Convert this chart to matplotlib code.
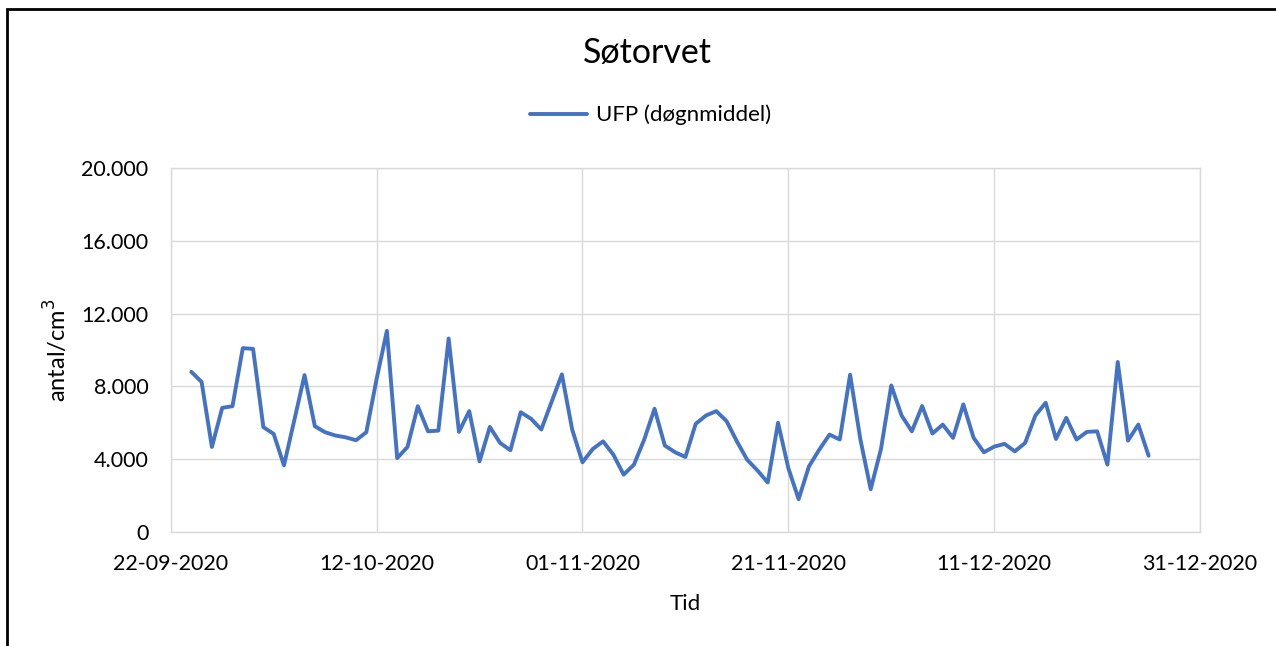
import pandas as pd
import matplotlib
matplotlib.use("Agg")
import matplotlib.pyplot as plt
import matplotlib.dates as mdates
from matplotlib.ticker import FuncFormatter, MultipleLocator
from matplotlib.patches import Rectangle

plt.rcParams['font.family'] = ['Lato', 'DejaVu Sans']

# daily mean UFP, first value on 24-09-2020
start_date = "2020-09-24"
ufp_values = [
    8800, 8240, 4670, 6820, 6910, 10100, 10060, 5760, 5390, 3660,
    6130, 8620, 5810, 5480, 5300, 5200, 5040, 5480, 8400, 11050,
    4060, 4670, 6910, 5530, 5570, 10630, 5500, 6640, 3880, 5770,
    4890, 4490, 6580, 6220, 5630, 7150, 8660, 5630, 3830, 4560,
    4980, 4250, 3150, 3700, 5080, 6770, 4750, 4380, 4120, 5940,
    6400, 6640, 6090, 4980, 3970, 3380, 2720, 6000, 3510, 1800,
    3600, 4520, 5350, 5080, 8640, 5080, 2350, 4560, 8050, 6400,
    5530, 6920, 5410, 5900, 5170, 7010, 5170, 4380, 4690, 4840,
    4430, 4890, 6400, 7100, 5110, 6270, 5080, 5500, 5530, 3700,
    9340, 5020, 5900, 4190,
]
dates = pd.date_range(start_date, periods=len(ufp_values), freq="D")

x_start = pd.Timestamp("2020-09-22")
x_end = pd.Timestamp("2020-12-31")
tick_dates = pd.date_range(x_start, x_end, freq="20D")

fig = plt.figure(figsize=(12.76, 6.46), dpi=100)
ax = fig.add_axes([0.1338, 0.1765, 0.8067, 0.5635])

ax.plot(dates, ufp_values, color="#4472C4", linewidth=2.8,
        solid_joinstyle="round", solid_capstyle="round",
        label="UFP (døgnmiddel)")

ax.set_xlim(x_start, x_end)
ax.set_ylim(0, 20000)
ax.set_xticks(tick_dates)
ax.xaxis.set_major_formatter(mdates.DateFormatter("%d-%m-%Y"))
ax.yaxis.set_major_locator(MultipleLocator(4000))
ax.yaxis.set_major_formatter(FuncFormatter(lambda v, p: f"{v:,.0f}".replace(",", ".")))

ax.grid(True, color="#D9D9D9", linewidth=1.0)
ax.set_axisbelow(True)
for s in ax.spines.values():
    s.set_color("#D9D9D9")
    s.set_linewidth(1.0)
ax.tick_params(length=0, labelsize=15.5, colors="#000000")
ax.tick_params(axis="y", pad=16)
ax.tick_params(axis="x", pad=16)

ax.set_xlabel("Tid", fontsize=16, labelpad=14)
ax.set_ylabel("antal/cm$^3$", fontsize=17, labelpad=8)

fig.text(0.507, 0.918, "Søtorvet", ha="center", va="center", fontsize=24.5)
ax.legend(loc="center", bbox_to_anchor=(0.466, 1.145), frameon=False,
          fontsize=16, handlelength=2.6, handletextpad=0.4)

# outer chart frame
fig.patches.append(Rectangle((7 / 1276, -0.1), 1.2, 1.1 - 9 / 646,
                             transform=fig.transFigure, fill=False,
                             edgecolor="black", linewidth=2))

fig.savefig("out.png", dpi=100)
